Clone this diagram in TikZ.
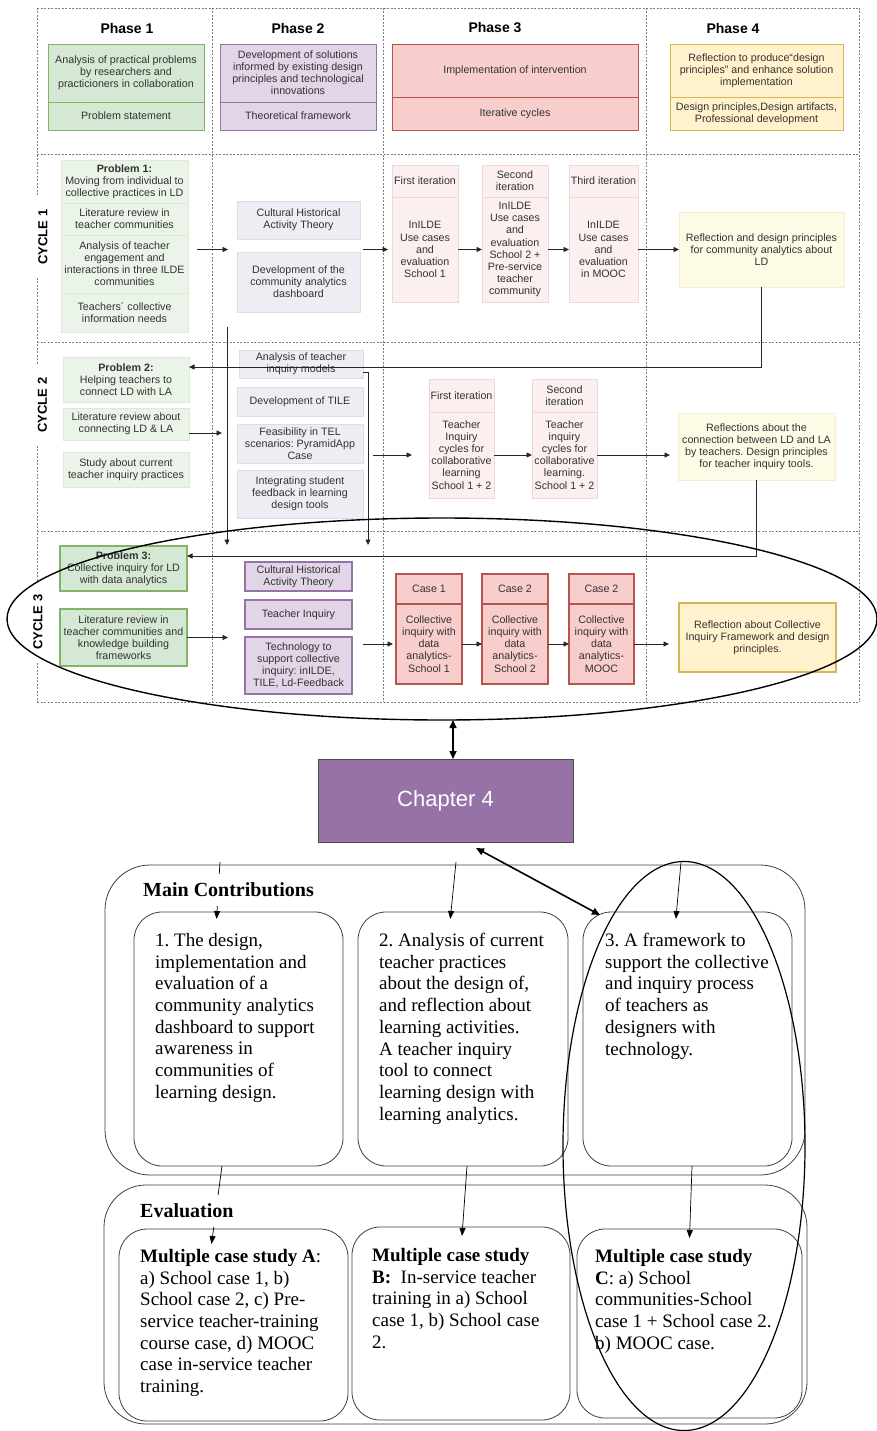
\documentclass[tikz,border=0pt]{standalone}
\usepackage{fontspec}
\setmainfont{Liberation Sans}
\newfontfamily\tnr{Liberation Serif}
\usetikzlibrary{arrows.meta,shapes.geometric}
\frenchspacing

% draw.io palette
\definecolor{gS}{HTML}{D5E8D4}\definecolor{gB}{HTML}{82B366}
\definecolor{pS}{HTML}{E1D5E7}\definecolor{pB}{HTML}{9673A6}
\definecolor{rS}{HTML}{F8CECC}\definecolor{rB}{HTML}{B85450}
\definecolor{yS}{HTML}{FFF2CC}\definecolor{yB}{HTML}{D6B656}
% faded variants
\definecolor{gL}{HTML}{EAF4E8}\definecolor{gLB}{HTML}{DCEBD8}
\definecolor{pL}{HTML}{F0ECF3}\definecolor{pLB}{HTML}{E2DAE8}
\definecolor{rL}{HTML}{FCEFEF}\definecolor{rLB}{HTML}{F2D6D6}
\definecolor{yL}{HTML}{FDFAE6}\definecolor{yLB}{HTML}{F5EDCB}
\definecolor{chapF}{HTML}{9772A6}
\definecolor{gridc}{HTML}{7F7F7F}
\definecolor{txt}{HTML}{333333}

\tikzset{
  wh/.style 2 args={minimum width=#1pt, minimum height=#2pt},
  sm/.style={font=\fontsize{10.7}{12.1}\selectfont, align=center, inner sep=0.5pt, outer sep=0pt, text=txt},
  gl/.style={sm, fill=gL, draw=gLB, line width=0.8pt},
  pl/.style={sm, fill=pL, draw=pLB, line width=0.8pt},
  rl/.style={sm, fill=rL, draw=rLB, line width=0.8pt},
  yl/.style={sm, fill=yL, draw=yLB, line width=0.8pt},
  gs/.style={sm, fill=gS, draw=gB, line width=0.8pt},
  ps/.style={sm, fill=pS, draw=pB, line width=0.8pt},
  rs/.style={sm, fill=rS, draw=rB, line width=0.8pt},
  ys/.style={sm, fill=yS, draw=yB, line width=0.8pt},
  gt/.style={gs, line width=1.5pt},
  pt/.style={ps, line width=1.5pt},
  rt/.style={rs, line width=1.2pt},
  yt/.style={ys, line width=1.5pt},
  phase/.style={font=\bfseries\fontsize{14}{16}\selectfont},
  cyc/.style={font=\bfseries\fontsize{13}{15}\selectfont, rotate=90, fill=white, inner xsep=14pt, inner ysep=1pt},
  gridline/.style={draw=gridc, line width=0.7pt, dash pattern=on 2pt off 1.5pt},
  arr/.style={draw=black!85, line width=0.8pt, -{Triangle[length=5.5pt,width=5pt]}},
  tarr/.style={draw=black, line width=0.7pt, -{Triangle[length=8pt,width=6pt]}},
  dblarr/.style={draw=black, line width=1.6pt, {Triangle[length=8pt,width=7pt]}-{Triangle[length=8pt,width=7pt]}},
  rbox/.style={draw=black!75, line width=0.8pt, outer sep=0pt, rounded corners=28pt},
  body/.style={font=\tnr\fontsize{19}{21.7}\selectfont, align=left, inner sep=0pt, anchor=north west},
  btitle/.style={font=\tnr\bfseries\fontsize{20}{24}\selectfont, fill=white, inner xsep=2pt, minimum height=32pt, anchor=west},
}

\begin{document}
\begin{tikzpicture}[x=1pt,y=-1pt]
\useasboundingbox (0,0) rectangle (876,1431);
\fill[white] (0,0) rectangle (876,1431);

% ---------- phase / cycle grid ----------
\foreach \yy in {8,154,342,531,702} \draw[gridline] (37,\yy) -- (859,\yy);
\foreach \xx in {37,212,383,646,859} \draw[gridline] (\xx,8) -- (\xx,702);

\node[phase] (ph1) at (127,28) {Phase 1};
\node[phase] (ph2) at (298,28) {Phase 2};
\node[phase] (ph3) at (495,28) {Phase 3};
\node[phase] (ph4) at (733,28) {Phase 4};

\node[gs, wh={156}{58}] (h1a) at (126,73) {Analysis of practical problems\\by researchers and\\practicioners in collaboration};
\node[gs, wh={156}{28}] (h1b) at (126,116) {Problem statement};
\node[ps, wh={156}{58}] (h2a) at (298,73) {Development of solutions\\informed by existing design\\principles and technological\\innovations};
\node[ps, wh={156}{28}] (h2b) at (298,116) {Theoretical framework};
\node[rs, wh={246}{53}] (h3a) at (515,70.5) {Implementation of intervention};
\node[rs, wh={246}{33}] (h3b) at (515,113.5) {Iterative cycles};
\node[ys, wh={173}{53}] (h4a) at (756.5,70.5) {Reflection to produce“design\\principles” and enhance solution\\implementation};
\node[ys, wh={173}{33}] (h4b) at (756.5,113.5) {Design principles,Design artifacts,\\Professional development};

\node[cyc] (cy1) at (43,237) {CYCLE 1};
\node[cyc] (cy2) at (42.5,405) {CYCLE 2};
\node[cyc] (cy3) at (38,622) {CYCLE 3};

% ---------- cycle 1 ----------
\node[gl, wh={127}{43}] (pr1) at (124.5,181.5) {\textbf{Problem 1:}\\Moving from individual to\\collective practices in LD};
\node[gl, wh={127}{32}] (lr1) at (124.5,219) {Literature review in\\teacher communities};
\node[gl, wh={127}{58}] (an1) at (124.5,264) {Analysis of teacher\\engagement and\\interactions in three ILDE\\communities};
\node[gl, wh={127}{39}] (ne1) at (124.5,312.5) {Teachers´ collective\\information needs};
\node[pl, wh={123}{38}] (ch1) at (298.5,220) {Cultural Historical\\Activity Theory};
\node[pl, wh={123}{60}] (db1) at (298.5,282) {Development of the\\community analytics\\dashboard};
\node[rl, wh={66}{32}] (i1h) at (425,181) {First iteration};
\node[rl, wh={66}{105}] (i1b) at (425,249.5) {InILDE\\Use cases\\and\\evaluation\\School 1};
\node[rl, wh={66}{32}] (i2h) at (515,181) {Second\\iteration};
\node[rl, wh={66}{105}] (i2b) at (515,249.5) {InILDE\\Use cases\\and\\evaluation\\School 2 +\\Pre-service\\teacher\\community};
\node[rl, wh={69}{32}] (i3h) at (603.5,181) {Third iteration};
\node[rl, wh={69}{105}] (i3b) at (603.5,249.5) {InILDE\\Use cases\\and\\evaluation\\in MOOC};
\node[yl, wh={165}{75}] (rf1) at (761.5,249.5) {Reflection and design principles\\for community analytics about\\LD};

\draw[arr, shorten <=9pt, shorten >=9pt] (an1.east |- i1b.center) -- (ch1.west |- i1b.center);
\draw[arr, shorten <=3pt, shorten >=4pt] (db1.east |- i1b.center) -- (i1b.west);
\draw[arr] (i1b) -- (i2b);
\draw[arr] (i2b) -- (i3b);
\draw[arr] (i3b) -- (rf1);

% ---------- cycle 2 ----------
\node[gl, wh={126}{45}] (pr2) at (126,379.5) {\textbf{Problem 2:}\\Helping teachers to\\connect LD with LA};
\node[gl, wh={126}{32}] (lr2) at (126,424) {Literature review about\\connecting LD \& LA};
\node[gl, wh={126}{35}] (st2) at (126,469.5) {Study about current\\teacher inquiry practices};
\node[pl, wh={124}{28}] (iq2) at (301,364) {Analysis of teacher\\inquiry models};
\node[pl, wh={126}{29}] (ti2) at (300,401.5) {Development of TILE};
\node[pl, wh={126}{39}] (fe2) at (300,443.5) {Feasibility in TEL\\scenarios: PyramidApp\\Case};
\node[pl, wh={126}{48}] (ig2) at (300,494) {Integrating student\\feedback in learning\\design tools};
\node[rl, wh={65}{33}] (j1h) at (461.5,395.5) {First iteration};
\node[rl, wh={65}{86}] (j1b) at (461.5,455) {Teacher\\Inquiry\\cycles for\\collaborative\\learning\\School 1 + 2};
\node[rl, wh={65}{33}] (j2h) at (564.5,395.5) {Second\\iteration};
\node[rl, wh={65}{86}] (j2b) at (564.5,455) {Teacher\\inquiry\\cycles for\\collaborative\\learning.\\School 1 + 2};
\node[yl, wh={157}{67}] (rf2) at (756.5,446.5) {Reflections about the\\connection between LD and LA\\by teachers. Design principles\\for teacher inquiry tools.};

\coordinate (y367) at (0,367);
\coordinate (y372) at (0,372);
\coordinate (y433) at (0,433);
\coordinate (y556) at (0,556);
\draw[arr] (rf1.south) |- (pr2.east |- y367);
\draw[arr, shorten >=15pt] (lr2.east |- y433) -- (fe2.west |- y433);
\draw[arr, shorten <=10pt, shorten >=17pt] (fe2.east |- j1b.center) -- (j1b.west);
\draw[arr] (j1b) -- (j2b);
\draw[arr, shorten >=8pt] (j2b.east) -- (rf2.west |- j2b.center);

% links running down into cycle 3
\coordinate (vA0) at (227,327);
\coordinate (vA1) at (227,545);
\coordinate (vB1) at (368,545);
\draw[arr] (vA0) -- (vA1);
\draw[arr] (iq2.east |- y372) -| (vB1);

% ---------- cycle 3 ----------
\node[gt, wh={127}{45}] (pr3) at (123.5,568.5) {\textbf{Problem 3:}\\Collective inquiry for LD\\with data analytics};
\node[gt, wh={127}{57}] (lr3) at (123.5,637.5) {Literature review in\\teacher communities and\\knowledge building\\frameworks};
\node[pt, wh={107}{29}] (ch3) at (298.5,576.5) {Cultural Historical\\Activity Theory};
\node[pt, wh={107}{29}] (tq3) at (298.5,614.5) {Teacher Inquiry};
\node[pt, wh={107}{57}] (te3) at (298.5,665.5) {Technology to\\support collective\\inquiry: inILDE,\\TILE, Ld-Feedback};
\node[rt, wh={66}{30}] (k1h) at (429,589) {Case 1};
\node[rt, wh={66}{80}] (k1b) at (429,644) {Collective\\inquiry with\\data\\analytics-\\School 1};
\node[rt, wh={66}{30}] (k2h) at (515,589) {Case 2};
\node[rt, wh={66}{80}] (k2b) at (515,644) {Collective\\inquiry with\\data\\analytics-\\School 2};
\node[rt, wh={65}{30}] (k3h) at (601.5,589) {Case 2};
\node[rt, wh={65}{80}] (k3b) at (601.5,644) {Collective\\inquiry with\\data\\analytics-\\MOOC};
\node[yt, wh={157}{69}] (rf3) at (757.5,637.5) {Reflection about Collective\\Inquiry Framework and design\\principles.};

\draw[arr] (rf2.south) |- (pr3.east |- y556);
\draw[arr, shorten >=17pt] (lr3.east) -- (te3.west |- lr3.east);
\draw[arr, shorten <=11pt, shorten >=3pt] (te3.east |- k1b.center) -- (k1b.west);
\draw[arr] (k1b) -- (k2b);
\draw[arr] (k2b) -- (k3b);
\draw[arr, shorten >=10pt] (k3b.east) -- (rf3.west |- k3b.center);

\node[draw=black, ellipse, line width=1.4pt, minimum width=870pt, minimum height=202pt, inner sep=0pt, outer sep=0pt] (el3) at (442,619) {};

% ---------- chapter ----------
\node[fill=chapF, draw=black!70, line width=0.8pt, wh={255}{83}, text=white, font=\fontsize{22}{26}\selectfont, outer sep=0pt] (ch4) at (445.5,800.5) {Chapter 4};
\draw[dblarr] ([xshift=11pt]el3.south) -- ([xshift=7.5pt]ch4.north);

% ---------- contributions and evaluation ----------
\node[rbox, rounded corners=45pt, wh={700}{310}] (mc) at (455,1020) {};
\node[rbox, rounded corners=42pt, wh={703}{239}] (ev) at (455.5,1304.5) {};
\node[rbox, wh={209}{254}] (c1) at (238.5,1039) {};
\node[rbox, wh={210}{254}] (c2) at (463,1039) {};
\node[rbox, wh={209}{254}] (c3) at (687.5,1039) {};
\node[rbox, wh={229}{192}] (e1) at (233.5,1325) {};
\node[rbox, wh={218}{193}] (e2) at (461,1323.5) {};
\node[rbox, wh={225}{189}] (e3) at (689.5,1323.5) {};

\node[body] (t1) at (155,933) {1. The design,\\implementation and\\evaluation of a\\community analytics\\dashboard to support\\awareness in\\communities of\\learning design.};
\node[body] (t2) at (379,933) {2. Analysis of current\\teacher practices\\about the design of,\\and reflection about\\learning activities.\\A teacher inquiry\\tool to connect\\learning design with\\learning analytics.};
\node[body] (t3) at (605,933) {3. A framework to\\support the collective\\and inquiry process\\of teachers as\\designers with\\technology.};
\node[body] (u1) at (140,1249) {\textbf{Multiple case study A}:\\a) School case 1, b)\\School case 2, c) Pre-\\service teacher-training\\course case, d) MOOC\\case in-service teacher\\training.};
\node[body] (u2) at (372,1248) {\textbf{Multiple case study}\\\textbf{B:}\ \ In-service teacher\\training in a) School\\case 1, b) School case\\2.};
\node[body] (u3) at (595,1249) {\textbf{Multiple case study}\\\textbf{C}: a) School\\communities-School\\case 1 + School case 2.\\b) MOOC case.};

\coordinate (m1) at (220,862);
\coordinate (m2) at (456,862);
\coordinate (m3) at (681,862);
\draw[tarr, shorten >=-7pt] (m1) -- ([xshift=-21.5pt]c1.north);
\draw[tarr, shorten >=-7pt] (m2) -- ([xshift=-12pt]c2.north);
\draw[tarr, shorten >=-7pt] (m3) -- ([xshift=-11pt]c3.north);
\draw[tarr] ([xshift=-16.5pt]c1.south) -- ([xshift=-22pt,yshift=-15pt]e1.north);
\draw[tarr] ([xshift=4pt]c2.south) -- ([xshift=1pt,yshift=-9pt]e2.north);
\draw[tarr] ([xshift=4.5pt]c3.south) -- ([yshift=-9pt]e3.north);

\node[btitle] (mct) at (141,890) {Main Contributions};
\node[btitle] (evt) at (138,1211) {Evaluation};

\draw[dblarr] ([xshift=30.5pt,yshift=-6pt]ch4.south) -- ([xshift=17pt,yshift=-3pt]c3.north west);

\node[draw=black, ellipse, line width=1.2pt, minimum width=242pt, minimum height=569pt, inner sep=0pt, outer sep=0pt] (el4) at (684,1146) {};
\end{tikzpicture}
\end{document}
